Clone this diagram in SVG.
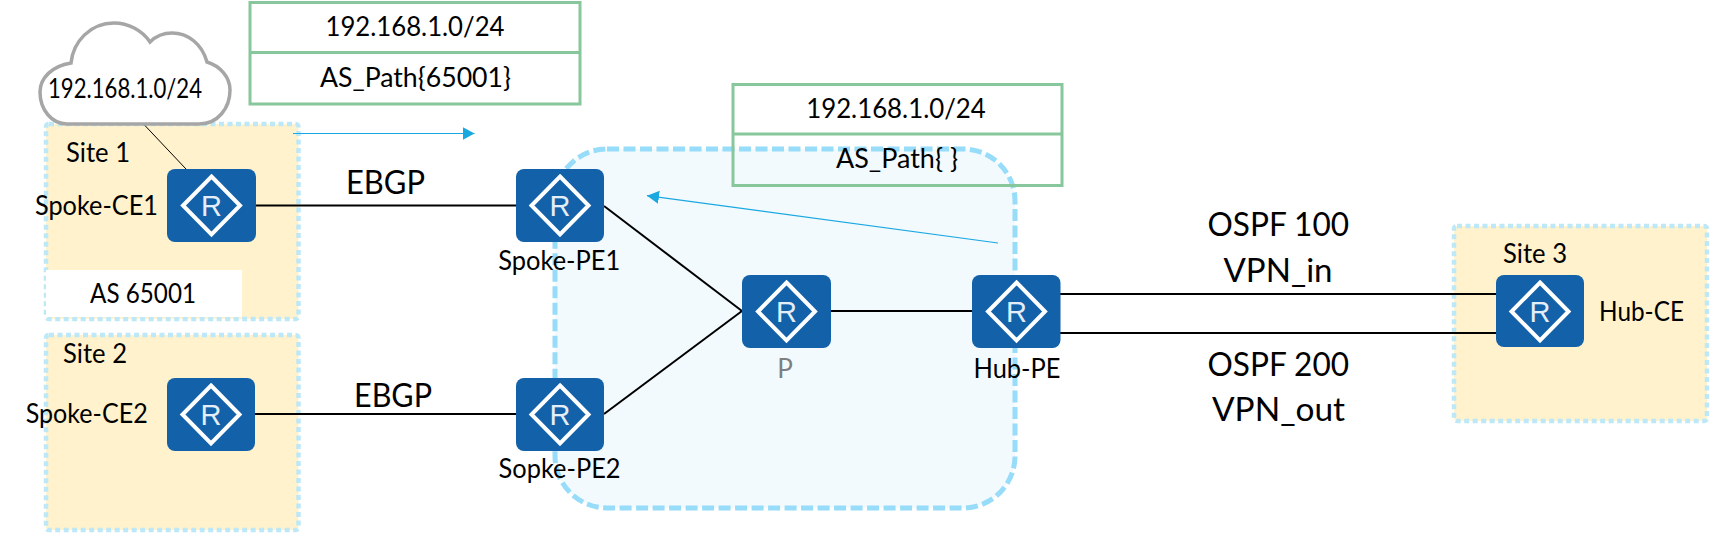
<svg xmlns="http://www.w3.org/2000/svg" width="1709" height="533" viewBox="0 0 1709 533">
<style>
text{font-family:Lato,"Liberation Sans",sans-serif;fill:#000;text-anchor:middle}
.t{font-size:26px}
.b{font-size:33.500px}
.site{fill:#fff2cc;stroke:#bde8f8;stroke-width:4.5;stroke-dasharray:5 3.5}
.core{fill:#f2fafe;stroke:#97dcf8;stroke-width:5;stroke-dasharray:12 4.5}
.tbl{fill:none;stroke:#88c79c;stroke-width:3}
.rbox{fill:#1261a9}
.dia{fill:none;stroke:#fff;stroke-width:4}
.r{font-family:"Liberation Sans",sans-serif;font-size:29px;fill:#e4eef8}
.lk{fill:none;stroke:#000;stroke-width:2}
.thin{fill:none;stroke:#000;stroke-width:1}
.ar{fill:none;stroke:#1aa8e0;stroke-width:1.2;marker-end:url(#ah)}
</style>
<defs>
<marker id="ah" markerUnits="userSpaceOnUse" markerWidth="13" markerHeight="14" refX="12" refY="6.5" orient="auto"><path d="M0 0L12 6.5L0 13Z" fill="#1aa8e0"/></marker>
</defs>
<rect width="1709" height="533" fill="#fff"/>
<g id="region-core"><rect class="core" x="555" y="149" width="460" height="359" rx="52"/></g>
<g id="site-1"><rect class="site" x="46" y="124" width="252.500" height="195" rx="3"/><rect x="46" y="270" width="196" height="47" fill="#fff"/><text class="t" x="98" y="162" textLength="64" lengthAdjust="spacingAndGlyphs">Site 1</text><text class="t" x="143" y="303" textLength="106" lengthAdjust="spacingAndGlyphs">AS 65001</text></g>
<g id="site-2"><rect class="site" x="46" y="335" width="252.500" height="195" rx="3"/><text class="t" x="95" y="363" textLength="64" lengthAdjust="spacingAndGlyphs">Site 2</text></g>
<g id="site-3"><rect class="site" x="1454" y="226" width="253" height="195" rx="3"/><text class="t" x="1535" y="263" textLength="64" lengthAdjust="spacingAndGlyphs">Site 3</text></g>
<g id="connectors">
<path class="thin" d="M143.500 124L186 169"/>
<path class="lk" d="M256 205.500H516"/>
<path class="lk" d="M255 414H516"/>
<path class="lk" d="M604 206L742 311"/>
<path class="lk" d="M604 414L742 311"/>
<path class="lk" d="M831 311H972"/>
<path class="lk" d="M1060 294H1496"/>
<path class="lk" d="M1060 333H1496"/>
<path class="ar" d="M293 133.500H474.500"/>
<path class="ar" d="M998 243L647 195.700"/>
</g>
<g id="cloud"><path d="M67 124H199C218 124 230 108 230 90C230 77 220 66 207 62C202 44 188 33 172 33C164 33 156 36 150 42C142 30 128 23 114 23C90 23 73 42 71 63C52 66 40 78 40 92C40 110 52 124 67 124Z" fill="#fff" stroke="#a6a6a6" stroke-width="3.500"/><text class="t" x="125" y="98" textLength="154" lengthAdjust="spacingAndGlyphs">192.168.1.0/24</text></g>
<g id="table-1"><rect class="tbl" x="250" y="2.500" width="330" height="101.500"/><path class="tbl" d="M250 52.500H580"/><text class="t" x="415" y="36" textLength="179" lengthAdjust="spacingAndGlyphs">192.168.1.0/24</text><text class="t" x="415.500" y="87" textLength="191" lengthAdjust="spacingAndGlyphs">AS_Path{65001}</text></g>
<g id="table-2"><rect class="tbl" x="733" y="84.500" width="329" height="101"/><path class="tbl" d="M733 134H1062"/><text class="t" x="896" y="118" textLength="179.500" lengthAdjust="spacingAndGlyphs">192.168.1.0/24</text><text class="t" x="897" y="168" textLength="122" lengthAdjust="spacingAndGlyphs">AS_Path{ }</text></g>
<g id="spoke-ce1"><rect class="rbox" x="167" y="169" width="89" height="73" rx="8"/><path class="dia" d="M211.500 176.500L240 205.500L211.500 234.500L183 205.500Z"/><text class="r" x="211.500" y="216">R</text><text class="t" x="96.500" y="215" textLength="123" lengthAdjust="spacingAndGlyphs">Spoke-CE1</text></g>
<g id="spoke-ce2"><rect class="rbox" x="167" y="378" width="88" height="73" rx="8"/><path class="dia" d="M211 385.500L239.500 414.500L211 443.500L182.500 414.500Z"/><text class="r" x="211" y="425">R</text><text class="t" x="86.700" y="423" textLength="122" lengthAdjust="spacingAndGlyphs">Spoke-CE2</text></g>
<g id="spoke-pe1"><rect class="rbox" x="516" y="169" width="88" height="73" rx="8"/><path class="dia" d="M560 176.500L588.500 205.500L560 234.500L531.500 205.500Z"/><text class="r" x="560" y="216">R</text><text class="t" x="559.300" y="270" textLength="122" lengthAdjust="spacingAndGlyphs">Spoke-PE1</text></g>
<g id="spoke-pe2"><rect class="rbox" x="516" y="378" width="88" height="73" rx="8"/><path class="dia" d="M560 385.500L588.500 414.500L560 443.500L531.500 414.500Z"/><text class="r" x="560" y="425">R</text><text class="t" x="559.600" y="478" textLength="122" lengthAdjust="spacingAndGlyphs">Sopke-PE2</text></g>
<g id="p"><rect class="rbox" x="742" y="275" width="89" height="73" rx="8"/><path class="dia" d="M786.500 282.500L815 311.500L786.500 340.500L758 311.500Z"/><text class="r" x="786.500" y="322">R</text><text class="t" x="785" y="378" style="fill:#7f7f7f">P</text></g>
<g id="hub-pe"><rect class="rbox" x="972" y="275" width="88.500" height="73" rx="8"/><path class="dia" d="M1016.500 282.500L1045 311.500L1016.500 340.500L988 311.500Z"/><text class="r" x="1016.500" y="322">R</text><text class="t" x="1017" y="378" textLength="87" lengthAdjust="spacingAndGlyphs">Hub-PE</text></g>
<g id="hub-ce"><rect class="rbox" x="1496" y="275" width="88" height="72" rx="8"/><path class="dia" d="M1540 282.500L1568.500 311.500L1540 340.500L1511.500 311.500Z"/><text class="r" x="1540" y="322">R</text><text class="t" x="1641.500" y="320.700" textLength="85" lengthAdjust="spacingAndGlyphs">Hub-CE</text></g>
<g id="labels">
<text class="b" x="385.500" y="194" textLength="79" lengthAdjust="spacingAndGlyphs">EBGP</text>
<text class="b" x="393" y="406.700" textLength="78" lengthAdjust="spacingAndGlyphs">EBGP</text>
<text class="b" x="1278.300" y="235.700" textLength="141.600" lengthAdjust="spacingAndGlyphs">OSPF 100</text>
<text class="b" x="1278" y="281.700" textLength="109" lengthAdjust="spacingAndGlyphs">VPN_in</text>
<text class="b" x="1278.300" y="376" textLength="141.600" lengthAdjust="spacingAndGlyphs">OSPF 200</text>
<text class="b" x="1278.500" y="420.700" textLength="133" lengthAdjust="spacingAndGlyphs">VPN_out</text>
</g>
</svg>
